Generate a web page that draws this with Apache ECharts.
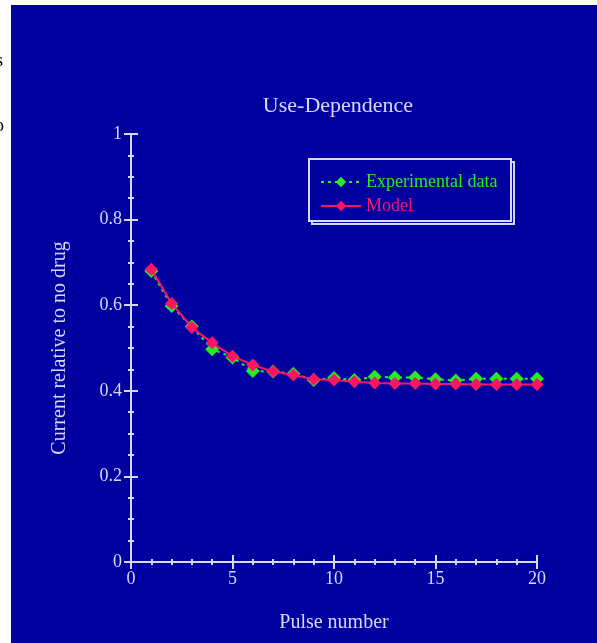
<!DOCTYPE html>
<html>
<head>
<meta charset="utf-8">
<script src="https://cdn.jsdelivr.net/npm/echarts@6/dist/echarts.min.js"></script>
<style>
html,body{margin:0;padding:0;background:#ffffff;}
#c{width:597px;height:643px;}
</style>
</head>
<body>
<div id="c"></div>
<script>
const pulses = [1,2,3,4,5,6,7,8,9,10,11,12,13,14,15,16,17,18,19,20];
const experimental = [0.680,0.598,0.550,0.497,0.478,0.446,0.445,0.440,0.425,0.430,0.425,0.433,0.431,0.431,0.427,0.424,0.428,0.428,0.428,0.428];
const model = [0.684,0.604,0.548,0.512,0.481,0.460,0.445,0.437,0.427,0.425,0.421,0.418,0.417,0.417,0.416,0.416,0.415,0.415,0.415,0.415];
const titleText = 'Use-Dependence';
const xName = 'Pulse number';
const yName = 'Current relative to no drug';
const seriesNames = ['Experimental data','Model'];

const BG = '#0000A0', AX = '#D8D8F4', GREEN = '#22EE22', PINK = '#FF1464';
const FONT = '"Liberation Serif","DejaVu Serif",serif';

const chart = echarts.init(document.getElementById('c'), null, {renderer:'canvas'});
const axisCommon = {
  axisLine:{show:true, lineStyle:{color:AX, width:2}},
  axisTick:{show:true, inside:true, length:7, lineStyle:{color:AX, width:2}},
  minorTick:{show:true, splitNumber:5, length:3, lineStyle:{color:AX, width:2}},
  splitLine:{show:false},
  axisLabel:{color:AX, fontFamily:FONT, fontSize:18}
};
chart.setOption({
  backgroundColor:'transparent',
  animation:false,
  graphic:[
    {type:'rect', z:-10, shape:{x:11, y:5, width:600, height:650}, style:{fill:BG}},
    {type:'text', left:-4, top:52, style:{text:'s', fill:'#000', font:'18px '+FONT}},
    {type:'text', left:-5, top:117, style:{text:'o', fill:'#000', font:'18px '+FONT}},
    {type:'rect', z:5, shape:{x:312, y:162, width:202, height:62}, style:{fill:'none', stroke:AX, lineWidth:2}},
    {type:'rect', z:6, shape:{x:309, y:159, width:202, height:62}, style:{fill:BG, stroke:AX, lineWidth:2}}
  ],
  title:{text:titleText, left:333, textAlign:'center', top:90,
    textStyle:{color:AX, fontFamily:FONT, fontSize:22, fontWeight:'normal'}},
  grid:{left:131, right:60, top:134, bottom:81, containLabel:false},
  legend:{
    orient:'vertical', left:315, top:168, itemGap:6, itemWidth:40, itemHeight:13, z:10,
    textStyle:{fontFamily:FONT, fontSize:18},
    data:[
      {name:seriesNames[0], textStyle:{color:GREEN}},
      {name:seriesNames[1], textStyle:{color:PINK}}
    ]
  },
  xAxis:[
    Object.assign({}, axisCommon, {type:'value', min:0, max:20, interval:5, position:'bottom',
      name:xName, nameLocation:'middle', nameGap:51,
      nameTextStyle:{color:AX, fontFamily:FONT, fontSize:20},
      axisLabel:Object.assign({}, axisCommon.axisLabel, {margin:8})}),
    Object.assign({}, axisCommon, {type:'value', min:0, max:20, interval:5, position:'top',
      axisLabel:{show:false}})
  ],
  yAxis:[
    Object.assign({}, axisCommon, {type:'value', min:0, max:1, interval:0.2, position:'left',
      minorTick:{show:true, splitNumber:4, length:3, lineStyle:{color:AX, width:2}},
      name:yName, nameLocation:'middle', nameGap:61, nameRotate:90,
      nameTextStyle:{color:AX, fontFamily:FONT, fontSize:20},
      axisLabel:Object.assign({}, axisCommon.axisLabel, {margin:9})}),
    Object.assign({}, axisCommon, {type:'value', min:0, max:1, interval:0.2, position:'right',
      minorTick:{show:true, splitNumber:4, length:3, lineStyle:{color:AX, width:2}},
      axisLabel:{show:false}})
  ],
  series:[
    {name:seriesNames[0], type:'line', z:3,
      data:pulses.map((p,i)=>[p, experimental[i]]),
      symbol:'diamond', symbolSize:14, showSymbol:true,
      itemStyle:{color:GREEN},
      lineStyle:{color:GREEN, width:2, type:[3,4]}},
    {name:seriesNames[1], type:'line', z:4,
      data:pulses.map((p,i)=>[p, model[i]]),
      symbol:'diamond', symbolSize:13, showSymbol:true,
      itemStyle:{color:PINK},
      lineStyle:{color:PINK, width:2}}
  ]
});
</script>
</body>
</html>
